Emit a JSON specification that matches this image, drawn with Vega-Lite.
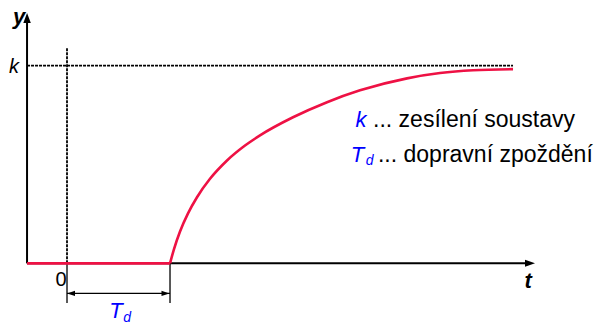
{
  "$schema": "https://vega.github.io/schema/vega-lite/v6.json",
  "width": 598,
  "height": 325,
  "autosize": {"type": "fit", "contains": "padding"},
  "padding": 0,
  "config": {"view": {"stroke": null}, "text": {"font": "Liberation Sans"}},
  "datasets": {
    "axes": [
      {"t": -0.388, "y": 0, "t2": 4.47, "y2": 0},
      {"t": -0.388, "y": 0, "t2": -0.388, "y2": 1.22}
    ],
    "ticks": [
      {"t": 0, "y": 0, "t2": 0, "y2": -0.201},
      {"t": 1, "y": 0, "t2": 1, "y2": -0.201},
      {"t": 0, "y": -0.152, "t2": 1, "y2": -0.152}
    ],
    "dashed": [
      {"t": -0.388, "y": 1.0, "t2": 4.33, "y2": 1.0},
      {"t": 0, "y": 0, "t2": 0, "y2": 1.09}
    ],
    "flat": [
      {"t": -0.388, "y": 0},
      {"t": 1.0, "y": 0}
    ],
    "curve": [
      {"t": 1.0, "y": 0},
      {"t": 1.0388, "y": 0.0725},
      {"t": 1.0971, "y": 0.1614},
      {"t": 1.1748, "y": 0.253},
      {"t": 1.2621, "y": 0.3345},
      {"t": 1.3883, "y": 0.4276},
      {"t": 1.5534, "y": 0.5202},
      {"t": 1.7282, "y": 0.5958},
      {"t": 1.8738, "y": 0.6473},
      {"t": 2.1942, "y": 0.7387},
      {"t": 2.5243, "y": 0.815},
      {"t": 2.8447, "y": 0.8749},
      {"t": 3.301, "y": 0.9354},
      {"t": 3.6214, "y": 0.9622},
      {"t": 3.9417, "y": 0.9763},
      {"t": 4.3301, "y": 0.982}
    ],
    "arrowUp": [{"t": -0.388, "y": 1.241}],
    "arrowRight": [{"t": 4.495, "y": 0}],
    "dimLeft": [{"t": 0.039, "y": -0.152}],
    "dimRight": [{"t": 0.956, "y": -0.152}],
    "boldLabels": [
      {"t": -0.466, "y": 1.21, "label": "y"},
      {"t": 4.476, "y": -0.1256, "label": "t"}
    ],
    "italicBlack": [{"t": -0.515, "y": 0.965, "label": "k"}],
    "zero": [{"t": -0.058, "y": -0.1156, "label": "0"}],
    "blueItalic": [
      {"t": 2.854, "y": 0.688, "label": "k"},
      {"t": 2.82, "y": 0.513, "label": "T"},
      {"t": 0.476, "y": -0.276, "label": "T"}
    ],
    "blueSub": [
      {"t": 2.937, "y": 0.497, "label": "d"},
      {"t": 0.583, "y": -0.296, "label": "d"}
    ],
    "legend": [
      {"t": 2.971, "y": 0.688, "label": "... zesílení soustavy"},
      {"t": 3.019, "y": 0.513, "label": "... dopravní zpoždění"}
    ]
  },
  "encoding": {
    "x": {"field": "t", "type": "quantitative", "scale": {"domain": [-0.6505, 5.155], "nice": false, "zero": false}, "axis": null},
    "y": {"field": "y", "type": "quantitative", "scale": {"domain": [-0.3015, 1.3317], "nice": false, "zero": false}, "axis": null}
  },
  "layer": [
    {
      "data": {"name": "dashed"},
      "mark": {"type": "rule", "color": "black", "strokeWidth": 1.8, "strokeDash": [3, 1]},
      "encoding": {"x2": {"field": "t2"}, "y2": {"field": "y2"}}
    },
    {
      "data": {"name": "axes"},
      "mark": {"type": "rule", "color": "black", "strokeWidth": 2},
      "encoding": {"x2": {"field": "t2"}, "y2": {"field": "y2"}}
    },
    {
      "data": {"name": "ticks"},
      "mark": {"type": "rule", "color": "black", "strokeWidth": 1.3},
      "encoding": {"x2": {"field": "t2"}, "y2": {"field": "y2"}}
    },
    {
      "data": {"name": "flat"},
      "mark": {"type": "line", "color": "#ee1144", "strokeWidth": 2.6}
    },
    {
      "data": {"name": "curve"},
      "mark": {"type": "line", "color": "#ee1144", "strokeWidth": 2.6, "interpolate": "monotone"}
    },
    {
      "data": {"name": "arrowUp"},
      "mark": {"type": "point", "filled": true, "color": "black", "opacity": 1, "size": 100, "shape": "M0,-1L0.75,1L-0.75,1Z"}
    },
    {
      "data": {"name": "arrowRight"},
      "mark": {"type": "point", "filled": true, "color": "black", "opacity": 1, "size": 100, "shape": "M1,0L-1,-0.7L-1,0.7Z"}
    },
    {
      "data": {"name": "dimLeft"},
      "mark": {"type": "point", "filled": true, "color": "black", "opacity": 1, "size": 64, "shape": "M-1,0L1,-0.65L1,0.65Z"}
    },
    {
      "data": {"name": "dimRight"},
      "mark": {"type": "point", "filled": true, "color": "black", "opacity": 1, "size": 64, "shape": "M1,0L-1,-0.65L-1,0.65Z"}
    },
    {
      "data": {"name": "boldLabels"},
      "mark": {"type": "text", "fontSize": 22, "fontWeight": "bold", "fontStyle": "italic", "color": "black", "align": "center", "baseline": "alphabetic"},
      "encoding": {"text": {"field": "label"}}
    },
    {
      "data": {"name": "italicBlack"},
      "mark": {"type": "text", "fontSize": 20, "fontStyle": "italic", "color": "black", "align": "center", "baseline": "alphabetic"},
      "encoding": {"text": {"field": "label"}}
    },
    {
      "data": {"name": "zero"},
      "mark": {"type": "text", "fontSize": 20, "color": "black", "align": "center", "baseline": "alphabetic"},
      "encoding": {"text": {"field": "label"}}
    },
    {
      "data": {"name": "blueItalic"},
      "mark": {"type": "text", "fontSize": 22, "fontStyle": "italic", "color": "#0000ff", "align": "center", "baseline": "alphabetic"},
      "encoding": {"text": {"field": "label"}}
    },
    {
      "data": {"name": "blueSub"},
      "mark": {"type": "text", "fontSize": 14, "fontStyle": "italic", "color": "#0000ff", "align": "center", "baseline": "alphabetic"},
      "encoding": {"text": {"field": "label"}}
    },
    {
      "data": {"name": "legend"},
      "mark": {"type": "text", "fontSize": 23, "color": "black", "align": "left", "baseline": "alphabetic"},
      "encoding": {"text": {"field": "label"}}
    }
  ]
}
